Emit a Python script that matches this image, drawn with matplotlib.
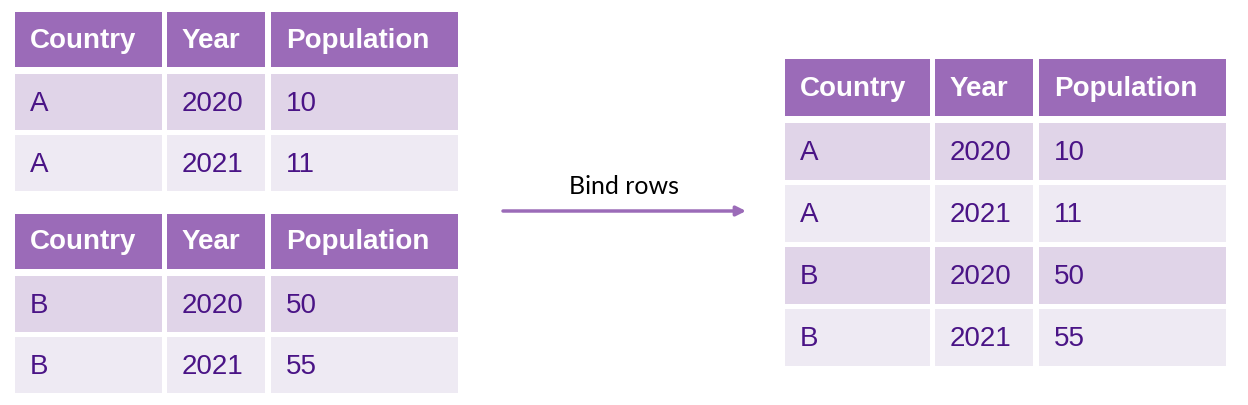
import matplotlib.pyplot as plt
from matplotlib.patches import Rectangle

header = ['Country', 'Year', 'Population']
rows_a = [['A', '2020', '10'], ['A', '2021', '11']]
rows_b = [['B', '2020', '50'], ['B', '2021', '55']]
rows_all = rows_a + rows_b

HEAD = '#9b6bb8'
ROW1 = '#e0d4e8'
ROW2 = '#eeeaf3'
TXT = '#4a1486'

fig = plt.figure(figsize=(12.48, 4.06), dpi=100)
ax = fig.add_axes([0, 0, 1, 1])
ax.set_xlim(0, 1248)
ax.set_ylim(406, 0)
ax.axis('off')


def draw_table(x0, y0, cols, row_h, head_h, gap, rows):
    # cols: list of (left, width)
    y = y0
    for (cx, cw), h in zip(cols, header):
        ax.add_patch(Rectangle((cx, y), cw, head_h, color=HEAD, lw=0))
        ax.text(cx + 15, y + head_h / 2, h, color='white', fontsize=20,
                fontweight='bold', family='Liberation Sans', va='center')
    y += head_h + gap + 2
    for i, r in enumerate(rows):
        col = ROW1 if i % 2 == 0 else ROW2
        for (cx, cw), v in zip(cols, r):
            ax.add_patch(Rectangle((cx, y), cw, row_h, color=col, lw=0))
            ax.text(cx + 15, y + row_h / 2 + 1, v, color=TXT, fontsize=20,
                    family='Liberation Sans', va='center')
        y += row_h + gap


left_cols = [(15, 147), (167, 98), (271, 187)]
draw_table(15, 13, left_cols, 56, 55, 5, rows_a)
draw_table(15, 215, left_cols, 56, 55, 5, rows_b)
right_cols = [(785, 145), (935, 98), (1039, 187)]
draw_table(785, 60, right_cols, 57, 57, 5, rows_all)

ax.annotate('', xy=(746, 212), xytext=(503, 212),
            arrowprops=dict(arrowstyle='-|>', color=HEAD, lw=2.5,
                            mutation_scale=14, shrinkA=0, shrinkB=0))
ax.text(624, 187, 'Bind rows', fontsize=18, color='black', ha='center',
        va='center', family='Lato')

fig.savefig('out.png', dpi=100)
